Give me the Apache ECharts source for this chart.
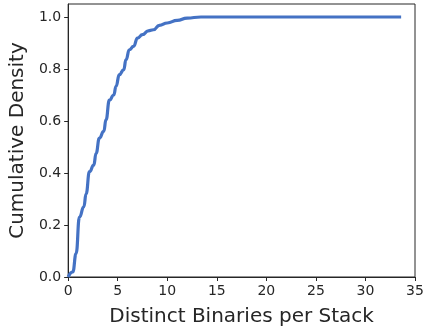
<!DOCTYPE html>
<html>
<head>
<meta charset="utf-8">
<script src="https://cdn.jsdelivr.net/npm/echarts@6/dist/echarts.min.js"></script>
<style>
html, body { margin: 0; padding: 0; background: #fff; }
#chart { width: 432px; height: 332px; }
</style>
</head>
<body>
<div id="chart"></div>
<script>
// cdf (distinct binaries per stack)
var binaries = [0, 0.47, 0.8, 1.14, 1.58, 1.81, 2.15, 2.58, 2.82, 3.15, 3.59, 3.82, 4.16, 4.6, 4.83, 5.16, 5.6, 5.84, 6.17, 6.6, 7.0, 7.5, 8.08, 8.6, 9.2, 10.0, 11.0, 12.0, 13.4, 15, 20, 25, 30, 33.6];
var density = [0, 0.02, 0.09, 0.23, 0.27, 0.32, 0.405, 0.43, 0.476, 0.534, 0.56, 0.605, 0.68, 0.70, 0.733, 0.778, 0.797, 0.836, 0.874, 0.887, 0.919, 0.932, 0.947, 0.951, 0.968, 0.977, 0.987, 0.996, 1.0, 1.0, 1.0, 1.0, 1.0, 1.0];
var yTicks = [0, 0.2, 0.4, 0.6, 0.8, 1.0];

var pts = binaries.map((x, i) => [x, density[i]]);
var font = 'DejaVu Sans';
var ink = '#262626';

var chart = echarts.init(document.getElementById('chart'));
chart.setOption({
	animation: false,
	grid: {
		left: 67, right: 17, top: 4, bottom: 55,
		show: true, borderColor: ink, borderWidth: 1
	},
	xAxis: {
		type: 'value',
		min: 0, max: 35, interval: 5,
		name: 'Distinct Binaries per Stack',
		nameLocation: 'middle',
		nameGap: 30,
		nameTextStyle: { fontFamily: font, fontSize: 20, color: ink },
		axisLine: { lineStyle: { color: ink } },
		axisTick: { length: 4, lineStyle: { color: ink } },
		axisLabel: { margin: 7, fontFamily: font, fontSize: 14, color: ink },
		splitLine: { show: false }
	},
	yAxis: {
		type: 'value',
		min: 0, max: 1.05,
		name: 'Cumulative Density',
		nameLocation: 'middle',
		nameGap: 40,
		nameTextStyle: { fontFamily: font, fontSize: 20, color: ink },
		axisLine: { show: true, lineStyle: { color: ink } },
		axisTick: { show: true, length: 4, customValues: yTicks, lineStyle: { color: ink } },
		axisLabel: {
			margin: 7, fontFamily: font, fontSize: 14, color: ink,
			customValues: yTicks,
			formatter: v => v.toFixed(1)
		},
		splitLine: { show: false }
	},
	series: [{
		type: 'line',
		data: pts,
		showSymbol: false,
		smooth: 0.5,
		smoothMonotone: 'x',
		lineStyle: { color: '#4472c4', width: 3.2 }
	}]
});
</script>
</body>
</html>
